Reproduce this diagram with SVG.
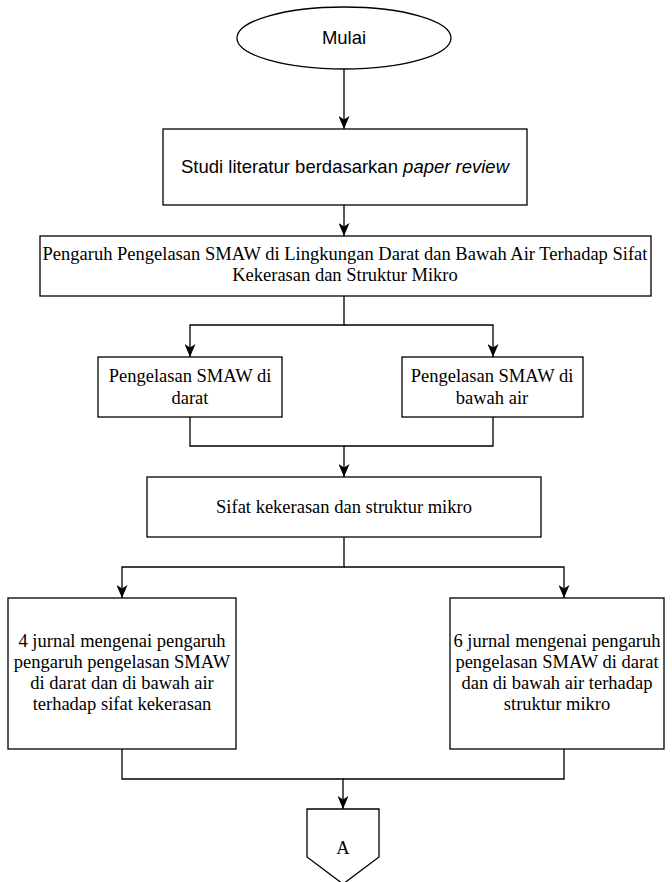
<svg xmlns="http://www.w3.org/2000/svg" width="672" height="882" viewBox="0 0 672 882">
<style>
.shape{fill:#fff;stroke:#000;stroke-width:1.3}
.conn{fill:none;stroke:#000;stroke-width:1.3}
.sans{font-family:"Liberation Sans",Arial,sans-serif;font-size:18.5px;fill:#000;text-anchor:middle}
.serif{font-family:"Liberation Serif","Times New Roman",serif;font-size:18.5px;fill:#000;text-anchor:middle}
</style>
<defs>
<marker id="arr" viewBox="0 0 13 11" refX="13" refY="5.5" markerWidth="13" markerHeight="11" markerUnits="userSpaceOnUse" orient="auto">
<path d="M0,0 L13,5.5 L0,11 L3.5,5.5 z" fill="#000"/>
</marker>
</defs>
<rect width="672" height="882" fill="#fff"/>
<g id="connectors">
<path class="conn" d="M344 69 V129" marker-end="url(#arr)"/>
<path class="conn" d="M344 205 V236" marker-end="url(#arr)"/>
<path class="conn" d="M344 296 V325 H190 V357" marker-end="url(#arr)"/>
<path class="conn" d="M344 325 H493 V357" marker-end="url(#arr)"/>
<path class="conn" d="M190 417 V446 H344 V477" marker-end="url(#arr)"/>
<path class="conn" d="M493 417 V446 H344"/>
<path class="conn" d="M344 537 V567 H122 V598" marker-end="url(#arr)"/>
<path class="conn" d="M344 567 H564 V598" marker-end="url(#arr)"/>
<path class="conn" d="M122 749 V779 H343 V809" marker-end="url(#arr)"/>
<path class="conn" d="M564 749 V779 H343"/>
</g>
<g id="mulai">
<ellipse class="shape" cx="344" cy="38" rx="107" ry="31"/>
<text class="sans" x="344" y="44">Mulai</text>
</g>
<g id="studi">
<rect class="shape" x="163" y="129" width="364" height="76"/>
<text class="sans" x="345" y="173">Studi literatur berdasarkan <tspan font-style="italic">paper review</tspan></text>
</g>
<g id="pengaruh">
<rect class="shape" x="40" y="236" width="611" height="60"/>
<text class="serif" x="345" y="260">Pengaruh Pengelasan SMAW di Lingkungan Darat dan Bawah Air Terhadap Sifat</text>
<text class="serif" x="345" y="281">Kekerasan dan Struktur Mikro</text>
</g>
<g id="darat">
<rect class="shape" x="98" y="357" width="184" height="60"/>
<text class="serif" x="190" y="382">Pengelasan SMAW di</text>
<text class="serif" x="190" y="404">darat</text>
</g>
<g id="bawah-air">
<rect class="shape" x="402" y="357" width="181" height="60"/>
<text class="serif" x="492" y="382">Pengelasan SMAW di</text>
<text class="serif" x="492" y="404">bawah air</text>
</g>
<g id="sifat">
<rect class="shape" x="147" y="477" width="394" height="60"/>
<text class="serif" x="344" y="513">Sifat kekerasan dan struktur mikro</text>
</g>
<g id="jurnal4">
<rect class="shape" x="8" y="598" width="228" height="151"/>
<text class="serif" x="122" y="647">4 jurnal mengenai pengaruh</text>
<text class="serif" x="122" y="668">pengaruh pengelasan SMAW</text>
<text class="serif" x="122" y="689">di darat dan di bawah air</text>
<text class="serif" x="122" y="710">terhadap sifat kekerasan</text>
</g>
<g id="jurnal6">
<rect class="shape" x="450" y="598" width="214" height="151"/>
<text class="serif" x="557" y="647">6 jurnal mengenai pengaruh</text>
<text class="serif" x="557" y="668">pengelasan SMAW di darat</text>
<text class="serif" x="557" y="689">dan di bawah air terhadap</text>
<text class="serif" x="557" y="710">struktur mikro</text>
</g>
<g id="connector-a">
<polygon class="shape" points="307,809 379,809 379,857 343,884 307,857"/>
<text class="serif" x="343" y="854">A</text>
</g>
</svg>
